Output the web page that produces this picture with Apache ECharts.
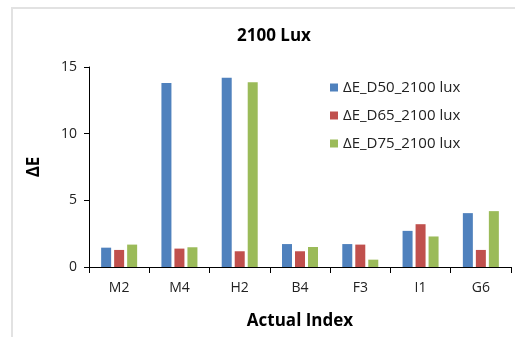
<!DOCTYPE html>
<html>
<head>
<meta charset="utf-8">
<script src="https://cdn.jsdelivr.net/npm/echarts@6/dist/echarts.min.js"></script>
<style>
  html, body { margin: 0; padding: 0; background: #fff; }
  #chart { width: 515px; height: 337px; }
</style>
</head>
<body>
<div id="chart"></div>
<script>
var categories = ["M2", "M4", "H2", "B4", "F3", "I1", "G6"];
var d50 = [1.45, 13.8, 14.2, 1.72, 1.72, 2.71, 4.04];
var d65 = [1.28, 1.38, 1.18, 1.18, 1.68, 3.21, 1.28];
var d75 = [1.68, 1.48, 13.85, 1.5, 0.55, 2.29, 4.19];
var seriesNames = ["ΔE_D50_2100 lux", "ΔE_D65_2100 lux", "ΔE_D75_2100 lux"];
var yTicks = [0, 5, 10, 15];

var myChart = echarts.init(document.getElementById("chart"));
var font = "'Open Sans', 'DejaVu Sans', sans-serif";

var option = {
  animation: false,
  color: ["#4F81BD", "#C0504D", "#9BBB59"],
  graphic: [
    {
      type: "rect",
      shape: { x: 12, y: 8, width: 600, height: 400 },
      style: { fill: "none", stroke: "#e2e2e2", lineWidth: 2 },
      silent: true,
    },
  ],
  title: {
    text: "2100 Lux",
    left: 269,
    top: 23,
    textAlign: "center",
    textStyle: { fontFamily: font, fontSize: 17, fontWeight: "bold", color: "#000" },
  },
  legend: {
    orient: "vertical",
    left: 325,
    top: 75,
    itemWidth: 8,
    itemHeight: 8,
    itemGap: 13,
    icon: "rect",
    textStyle: { fontFamily: font, fontSize: 15, color: "#222" },
    data: seriesNames,
  },
  grid: { left: 89, right: 4, top: 67, bottom: 70 },
  xAxis: {
    type: "category",
    data: categories,
    name: "Actual Index",
    nameLocation: "middle",
    nameGap: 46,
    nameTextStyle: { fontFamily: font, fontSize: 17, fontWeight: "bold", color: "#000" },
    axisLine: { lineStyle: { color: "#000", width: 1 } },
    axisTick: { show: true, length: 6, alignWithLabel: false, lineStyle: { color: "#000" } },
    axisLabel: { fontFamily: font, fontSize: 14, color: "#222", margin: 14 },
  },
  yAxis: {
    type: "value",
    min: yTicks[0],
    max: yTicks[yTicks.length - 1],
    interval: 5,
    name: "ΔE",
    nameLocation: "middle",
    nameRotate: 90,
    nameGap: 46,
    nameTextStyle: { fontFamily: font, fontSize: 17, fontWeight: "bold", color: "#000" },
    axisLine: { show: true, lineStyle: { color: "#000", width: 1 } },
    axisTick: { show: true, length: 5, lineStyle: { color: "#000" } },
    axisLabel: { fontFamily: font, fontSize: 14, color: "#222", margin: 12 },
    splitLine: { show: false },
  },
  series: [
    { name: seriesNames[0], type: "bar", data: d50, barWidth: 10, barGap: "30%" },
    { name: seriesNames[1], type: "bar", data: d65, barWidth: 10, barGap: "30%" },
    { name: seriesNames[2], type: "bar", data: d75, barWidth: 10, barGap: "30%" },
  ],
};
myChart.setOption(option);
</script>
</body>
</html>
